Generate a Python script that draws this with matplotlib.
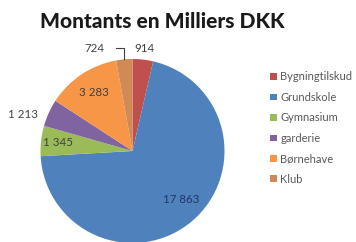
import numpy as np
import matplotlib
matplotlib.use("Agg")
import matplotlib.pyplot as plt
from matplotlib.patches import Patch

categories = ["Bygningtilskud", "Grundskole", "Gymnasium", "garderie", "Børnehave", "Klub"]
values = [914, 17863, 1345, 1213, 3283, 724]
labels = ["914", "17 863", "1 345", "1 213", "3 283", "724"]
colors = ["#C0504D", "#4F81BD", "#9BBB59", "#8064A2", "#F79646", "#D08A55"]
# label distance from center (in radii) and angle tweak (deg)
label_r = [1.12, 0.75, 0.82, 1.25, 0.76, 1.19]
label_dang = [0, 5, 0, 6, 0, 15]

plt.rcParams['font.family'] = ['Lato', 'DejaVu Sans']

fig = plt.figure(figsize=(3.56, 2.42), dpi=100)
ax = fig.add_axes([0, 0, 1, 1])

cx, cy, R = 132.5, 242 - 151, 92
wedges, _ = ax.pie(values, colors=colors, startangle=90, counterclock=False,
                   center=(cx, cy), radius=R, frame=True,
                   wedgeprops=dict(linewidth=0))
ax.set_xlim(0, 356)
ax.set_ylim(0, 242)
ax.set_aspect('equal')
ax.axis('off')

for i, w in enumerate(wedges):
    mid = (w.theta1 + w.theta2) / 2 + label_dang[i]
    a = np.deg2rad(mid)
    x = cx + label_r[i] * R * np.cos(a)
    y = cy + label_r[i] * R * np.sin(a)
    col = "#1F3864" if i == 1 else "#404040"
    ax.text(x, y, labels[i], ha='center', va='center', fontsize=8.3, color=col)

# leader line for the small Klub slice
w = wedges[5]
a = np.deg2rad((w.theta1 + w.theta2) / 2)
x0, y0 = cx + R * np.cos(a), cy + R * np.sin(a)
ax.plot([x0 - 8, x0, x0], [y0 + 11, y0 + 11, y0], color="#404040", lw=0.8)

fig.text(162 / 356, 1 - 21 / 242, "Montants en Milliers DKK", ha='center', va='center',
         fontsize=15, fontweight='black', color="#1a1a1a")

handles = [Patch(facecolor=c, edgecolor='none') for c in colors]
leg = fig.legend(handles, categories, loc='upper left', bbox_to_anchor=(266 / 356, 1 - 67 / 242),
                 frameon=False, fontsize=8, handlelength=0.55, handleheight=0.55,
                 handletextpad=0.35, labelspacing=0.85, borderaxespad=0)
for t in leg.get_texts():
    t.set_color("#595959")

fig.savefig("out.png", dpi=100, facecolor='white')
